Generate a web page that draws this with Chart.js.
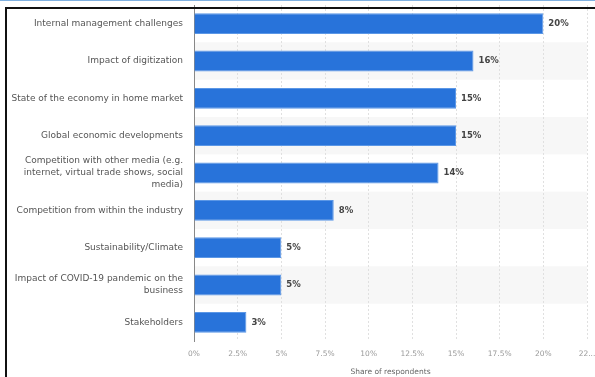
<!DOCTYPE html>
<html>
<head>
<meta charset="utf-8">
<script src="https://cdn.jsdelivr.net/npm/chart.js@4/dist/chart.umd.min.js"></script>
<style>
  html, body { margin: 0; padding: 0; background: #fff; }
  #wrap { position: relative; width: 595px; height: 377px; overflow: hidden; }
  #c { position: absolute; left: 0; top: 0; }
  #blue { position: absolute; left: 0; top: 0; width: 595px; height: 1px; background: #7fb0e0; }
  #ftop { position: absolute; left: 5px; top: 7px; width: 590px; height: 2px; background: #111; }
  #fleft { position: absolute; left: 5px; top: 7px; width: 2px; height: 370px; background: #111; }
</style>
</head>
<body>
<div id="wrap">
  <canvas id="c" width="595" height="377"></canvas>
  <div id="blue"></div>
  <div id="ftop"></div>
  <div id="fleft"></div>
</div>
<script>
const categories = [
  "Internal management challenges",
  "Impact of digitization",
  "State of the economy in home market",
  "Global economic developments",
  ["Competition with other media (e.g.", "internet, virtual trade shows, social", "media)"],
  "Competition from within the industry",
  "Sustainability/Climate",
  ["Impact of COVID-19 pandemic on the", "business"],
  "Stakeholders"
];
const shares = [20, 16, 15, 15, 14, 8, 5, 5, 3];
const xTickLabels = ["0%", "2.5%", "5%", "7.5%", "10%", "12.5%", "15%", "17.5%", "20%", "22..."];
const axisTitle = "Share of respondents";

const FONT = "'DejaVu Sans', sans-serif";

const bandUnderGrid = {
  id: 'bandUnderGrid',
  beforeDraw(chart) {
    const { ctx, chartArea, scales } = chart;
    const y = scales.y;
    const n = categories.length;
    const h = (chartArea.bottom - chartArea.top) / n;
    ctx.save();
    ctx.fillStyle = '#f7f7f7';
    for (let i = 1; i < n; i += 2) {
      const cy = y.getPixelForValue(i);
      ctx.fillRect(chartArea.left + 1, cy - h / 2, chartArea.right - chartArea.left - 1, h);
    }
    ctx.restore();
  }
};

const valueLabelPlugin = {
  id: 'valueLabels',
  afterDatasetsDraw(chart) {
    const { ctx } = chart;
    const meta = chart.getDatasetMeta(0);
    ctx.save();
    ctx.font = "bold 8.5px " + FONT;
    ctx.fillStyle = '#444';
    ctx.textBaseline = 'middle';
    ctx.textAlign = 'left';
    meta.data.forEach((bar, i) => {
      ctx.fillText(shares[i] + '%', bar.x + 5, bar.y);
    });
    ctx.restore();
  }
};

new Chart(document.getElementById('c'), {
  type: 'bar',
  data: {
    labels: categories,
    datasets: [{
      data: shares,
      backgroundColor: '#2873da',
      borderColor: '#5b97e6',
      borderWidth: 1,
      barPercentage: 0.56,
      categoryPercentage: 1
    }]
  },
  options: {
    indexAxis: 'y',
    responsive: false,
    animation: false,
    devicePixelRatio: 1,
    layout: { padding: { top: 5, right: 8, left: 0, bottom: 0 } },
    plugins: {
      legend: { display: false },
      tooltip: { enabled: false }
    },
    scales: {
      x: {
        type: 'linear',
        min: 0,
        max: 22.5,
        ticks: {
          stepSize: 2.5,
          autoSkip: false,
          maxRotation: 0,
          padding: 9,
          color: '#999',
          font: { family: FONT, size: 7.5 },
          callback: (v, i) => xTickLabels[i]
        },
        grid: { color: '#e0e0e0', drawTicks: false, lineWidth: 1 },
        border: { display: false, dash: [2, 2] },
        title: {
          display: true,
          text: axisTitle,
          color: '#666',
          font: { family: FONT, size: 7.5 },
          padding: { top: 0, bottom: 0 }
        },
        afterFit(scale) {
          scale.height = 36;
          scale.paddingLeft = 0;
          scale.paddingRight = 0;
        }
      },
      y: {
        ticks: {
          color: '#555',
          font: { family: FONT, size: 9, lineHeight: 1.35 },
          padding: 11,
          autoSkip: false
        },
        grid: { display: false, drawTicks: false },
        border: { display: true, color: '#888', width: 1 },
        afterFit(scale) {
          scale.width = 194;
          scale.paddingTop = 0;
          scale.paddingBottom = 0;
        }
      }
    }
  },
  plugins: [bandUnderGrid, valueLabelPlugin]
});
</script>
</body>
</html>
